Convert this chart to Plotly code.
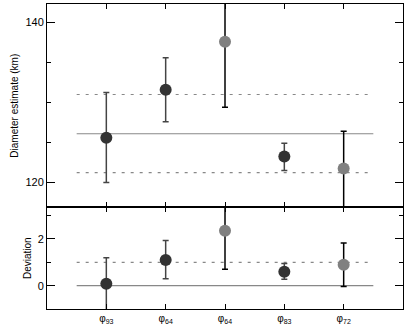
import plotly.graph_objects as go
from plotly.subplots import make_subplots

labels = ["φ<sub>93</sub>", "φ<sub>64</sub>", "φ<sub>64</sub>", "φ<sub>83</sub>", "φ<sub>72</sub>"]
xpos = [1, 2, 3, 4, 5]
shade = ["dark", "dark", "gray", "dark", "gray"]

diam = [125.6, 131.6, 137.6, 123.25, 121.75]
diam_hi = [131.25, 135.6, 146.0, 124.9, 126.4]
diam_lo = [120.0, 127.6, 129.4, 121.5, 117.0]
diam_mean = 126.1
diam_band = [121.25, 131.0]

dev = [0.08, 1.1, 2.35, 0.6, 0.9]
dev_hi = [1.2, 1.93, 3.8, 0.95, 1.83]
dev_lo = [-1.3, 0.3, 0.7, 0.27, -0.04]
dev_ref = 0.0
dev_band = 1.0

colors = {"dark": "#333333", "gray": "#808080"}
err_colors = {"dark": "#444444", "gray": "#000000"}

fig = make_subplots(rows=2, cols=1, shared_xaxes=True, vertical_spacing=0,
                    row_heights=[0.667, 0.333])

def add_points(vals, hi, lo, row):
    for grp in ["dark", "gray"]:
        idx = [i for i, s in enumerate(shade) if s == grp]
        fig.add_trace(go.Scatter(
            x=[xpos[i] for i in idx], y=[vals[i] for i in idx], mode="markers",
            marker=dict(size=12, color=colors[grp]),
            error_y=dict(type="data", symmetric=False,
                         array=[hi[i] - vals[i] for i in idx],
                         arrayminus=[vals[i] - lo[i] for i in idx],
                         color=err_colors[grp], thickness=1.5, width=3),
            showlegend=False), row=row, col=1)

def add_hline(y, row, dash):
    fig.add_trace(go.Scatter(x=[0.5, 5.5], y=[y, y], mode="lines",
                             line=dict(color="#888888", width=1.2, dash=dash),
                             showlegend=False, hoverinfo="skip"), row=row, col=1)

add_hline(diam_mean, 1, "solid")
for v in diam_band:
    add_hline(v, 1, "3px,6px")
add_hline(dev_ref, 2, "solid")
add_hline(dev_band, 2, "3px,6px")

add_points(diam, diam_hi, diam_lo, 1)
add_points(dev, dev_hi, dev_lo, 2)

font = dict(family="Liberation Sans, Arial, sans-serif", size=11, color="#000")
axis_common = dict(showline=True, linecolor="#000", linewidth=1, mirror="ticks",
                   ticks="inside", tickcolor="#000", showgrid=False, zeroline=False,
                   automargin=False)

fig.update_xaxes(range=[0, 6], tickvals=xpos, ticktext=labels, ticklen=5,
                 tickfont=dict(size=10), **axis_common)
fig.update_xaxes(showticklabels=False, row=1, col=1)

fig.update_yaxes(range=[116.9, 142.3], tickvals=[120, 140], ticklen=8,
                 minor=dict(tickvals=[125, 130, 135], ticks="inside", ticklen=4, tickcolor="#000"),
                 title=dict(text="Diameter estimate (km)", font=dict(size=10), standoff=4),
                 row=1, col=1, **axis_common)
fig.update_yaxes(range=[-1, 3.35], tickvals=[0, 2], ticklen=8,
                 minor=dict(tickvals=[-1, 1, 3], ticks="inside", ticklen=4, tickcolor="#000"),
                 title=dict(text="Deviation", font=dict(size=10), standoff=4),
                 row=2, col=1, **axis_common)

fig.update_layout(width=407, height=330, margin=dict(l=47, r=4, t=4, b=21),
                  plot_bgcolor="white", paper_bgcolor="white", font=font)

fig.write_html("out.html", config={"displayModeBar": False},
               post_script="document.body.style.margin='0';")
